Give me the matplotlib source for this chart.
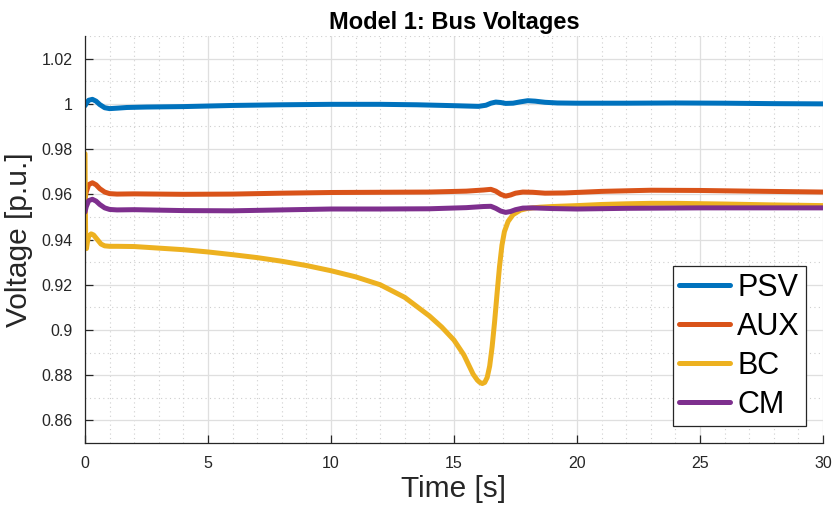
import matplotlib
matplotlib.use("Agg")
import matplotlib.pyplot as plt
import numpy as np

plt.rcParams['font.family'] = ['Liberation Sans', 'DejaVu Sans']

title = "Model 1: Bus Voltages"
xlabel = "Time [s]"
ylabel = "Voltage [p.u.]"
labels = ["PSV", "AUX", "BC", "CM"]
colors = ["#0072BD", "#D95319", "#EDB120", "#7E2F8E"]

psv_t = [0, 0.05, 0.15, 0.3, 0.45, 0.6, 0.8, 1.0, 1.3, 1.7, 2.5, 4, 6, 8, 10, 12, 13.5, 15, 16, 16.3, 16.5, 16.7, 16.9, 17.1, 17.4, 17.7, 18.0, 18.3, 18.7, 19.2, 20, 22, 24, 26, 28, 30]
psv_v = [0.9992, 1.0002, 1.0016, 1.0020, 1.0012, 0.9997, 0.9983, 0.9979, 0.9981, 0.9984, 0.9986, 0.9988, 0.9993, 0.9996, 0.9998, 0.9998, 0.9996, 0.9992, 0.9989, 0.9994, 1.0003, 1.0008, 1.0006, 1.0002, 1.0003, 1.0009, 1.0014, 1.0012, 1.0007, 1.0004, 1.0003, 1.0003, 1.0004, 1.0003, 1.0001, 1.0]

aux_t = [0, 0.05, 0.15, 0.3, 0.45, 0.6, 0.8, 1.0, 1.3, 2, 4, 6, 8, 10, 12, 14, 15.5, 16.2, 16.5, 16.7, 16.9, 17.1, 17.3, 17.5, 17.8, 18.2, 18.7, 19.5, 21, 23, 25, 27, 30]
aux_v = [0.958, 0.961, 0.9643, 0.9651, 0.9642, 0.9625, 0.961, 0.9603, 0.9601, 0.9602, 0.9600, 0.9601, 0.9605, 0.9608, 0.9609, 0.9610, 0.9614, 0.9619, 0.9622, 0.9614, 0.9600, 0.9592, 0.9597, 0.9605, 0.9610, 0.9609, 0.9605, 0.9606, 0.9613, 0.9618, 0.9617, 0.9614, 0.9610]

bc_t = [0, 0.01, 0.03, 0.06, 0.1, 0.15, 0.25, 0.35, 0.5, 0.65, 0.8, 1.0, 1.3, 2, 3, 4, 5, 6, 7, 8, 9, 10, 11, 12, 13, 14, 14.5, 15, 15.4, 15.78, 15.95, 16.05, 16.15, 16.25, 16.35, 16.45, 16.55, 16.65, 16.75, 16.85, 16.95, 17.05, 17.2, 17.4, 17.7, 18.0, 18.5, 19, 20, 21, 22, 23, 24, 26, 28, 30]
bc_v = [0.978, 0.960, 0.937, 0.936, 0.939, 0.9415, 0.9425, 0.942, 0.940, 0.938, 0.9372, 0.937, 0.937, 0.9369, 0.9362, 0.9355, 0.9345, 0.9333, 0.932, 0.9304, 0.9285, 0.9262, 0.9235, 0.920, 0.9144, 0.9062, 0.9013, 0.8955, 0.889, 0.8804, 0.8778, 0.8768, 0.8763, 0.8768, 0.879, 0.884, 0.8925, 0.9035, 0.916, 0.928, 0.9375, 0.9435, 0.948, 0.951, 0.953, 0.9538, 0.9543, 0.9546, 0.955, 0.9555, 0.9558, 0.956, 0.956, 0.9557, 0.9553, 0.955]

cm_t = [0, 0.05, 0.15, 0.3, 0.45, 0.6, 0.8, 1.0, 1.3, 2, 4, 6, 8, 10, 12, 14, 15.5, 16.2, 16.5, 16.7, 16.9, 17.1, 17.3, 17.5, 17.8, 18.2, 19, 20, 22, 25, 28, 30]
cm_v = [0.9522, 0.9545, 0.9572, 0.9578, 0.9570, 0.9555, 0.9540, 0.9533, 0.9531, 0.9532, 0.9528, 0.9527, 0.9531, 0.9535, 0.9535, 0.9536, 0.9541, 0.9546, 0.9547, 0.9538, 0.9526, 0.9520, 0.9524, 0.9532, 0.9539, 0.9540, 0.9537, 0.9535, 0.9538, 0.9540, 0.9540, 0.9540]

series = [(psv_t, psv_v), (aux_t, aux_v), (bc_t, bc_v), (cm_t, cm_v)]

fig = plt.figure(figsize=(8.35, 5.15), dpi=100)
ax = fig.add_axes([0.1018, 0.1398, 0.8838, 0.7902])

for (t, v), c, lab in zip(series, colors, labels):
    ax.plot(t, v, color=c, lw=3.6, label=lab, solid_capstyle='round', solid_joinstyle='round')

ax.set_xlim(0, 30)
ax.set_ylim(0.85, 1.03)
ax.set_xticks(np.arange(0, 31, 5))
ax.set_yticks([0.86, 0.88, 0.9, 0.92, 0.94, 0.96, 0.98, 1.0, 1.02])
ax.set_yticklabels(["0.86", "0.88", "0.9", "0.92", "0.94", "0.96", "0.98", "1", "1.02"])
ax.set_xticks(np.arange(0, 31, 1), minor=True)
ax.set_yticks(np.arange(0.85, 1.0301, 0.01), minor=True)
ax.grid(True, which='major', color='#dfdfdf', lw=0.9, ls='-')
ax.grid(True, which='minor', color='#cfcfcf', lw=0.8, ls=(0, (1, 3)))
ax.set_axisbelow(True)
ax.tick_params(which='major', direction='in', length=6, width=0.9, labelsize=11.5, colors='#262626', pad=9)
ax.tick_params(which='minor', length=0)
for s in ['top', 'right']:
    ax.spines[s].set_visible(False)
for s in ['left', 'bottom']:
    ax.spines[s].set_color('#262626')
    ax.spines[s].set_linewidth(0.9)

ax.set_title(title, fontsize=17, fontweight='bold', pad=5)
ax.set_xlabel(xlabel, fontsize=21.5, color='#262626', labelpad=3)
ax.set_ylabel(ylabel, fontsize=21.5, color='#262626', labelpad=6)

leg = ax.legend(loc='lower right', fontsize=22, handlelength=1.65, handletextpad=0.25,
                labelspacing=0.3, borderpad=0.2, borderaxespad=0.55, fancybox=False,
                framealpha=1, edgecolor='#262626')
leg.get_frame().set_linewidth(0.9)

fig.savefig("out.png", dpi=100)
